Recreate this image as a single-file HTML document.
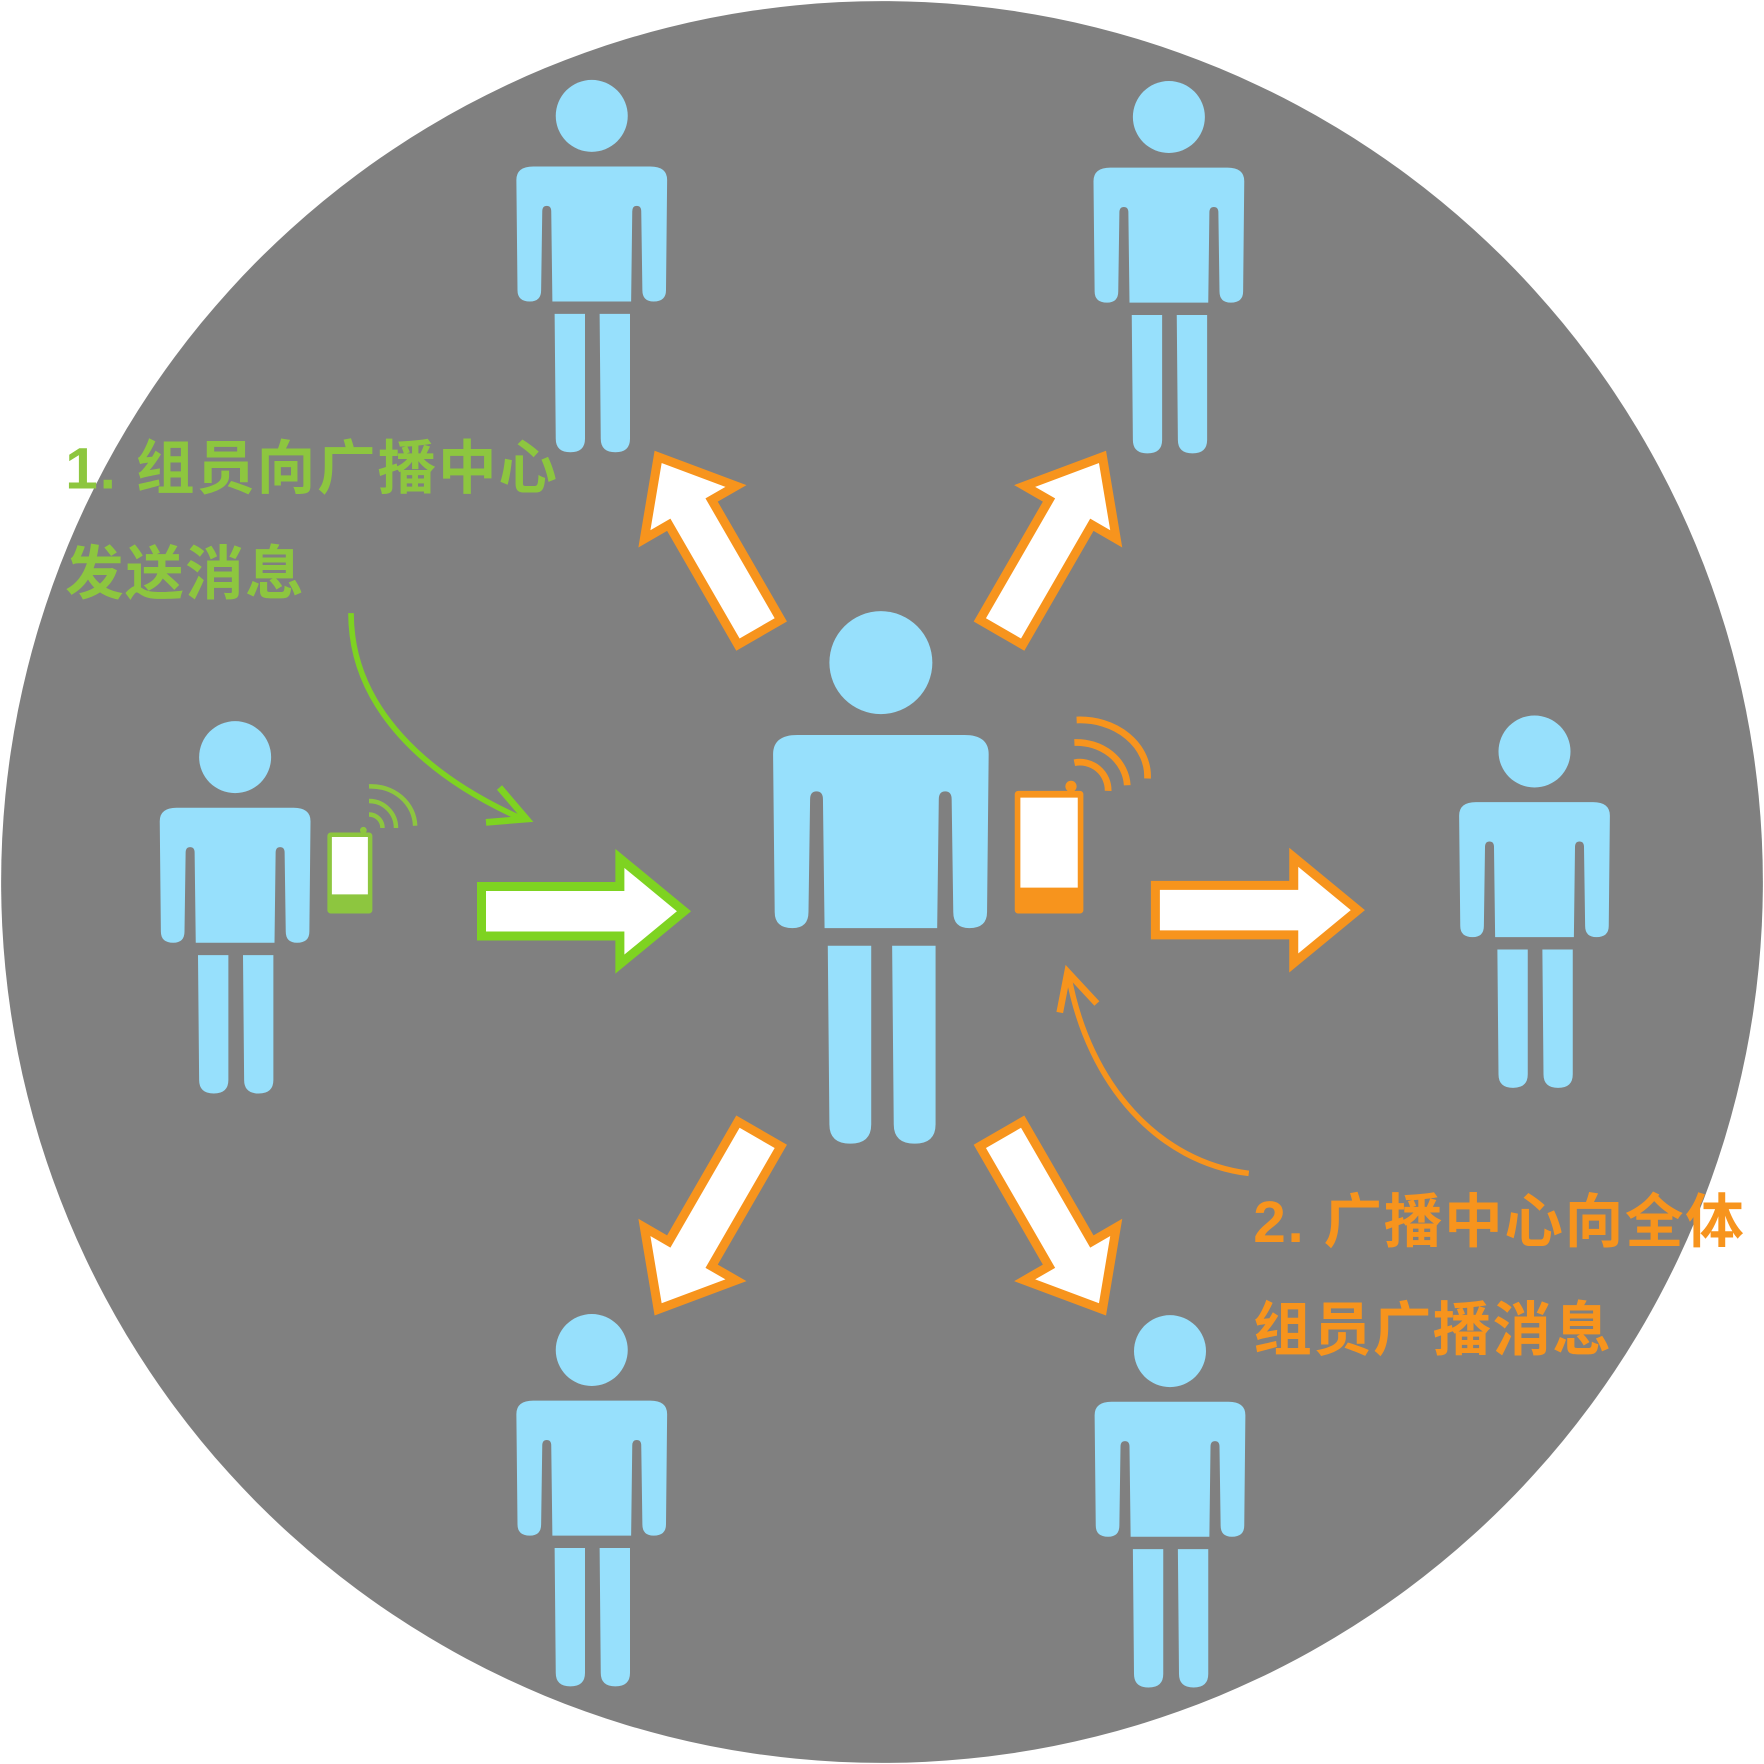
<!DOCTYPE html>
<html><head><meta charset="utf-8"><style>
html,body{margin:0;padding:0;background:#fff;}
svg{display:block;}
text{font-family:"Liberation Sans","Noto Sans CJK SC",sans-serif;font-weight:bold;}
</style></head><body>
<svg width="1764" height="1764" viewBox="0 0 1568 1568" xmlns="http://www.w3.org/2000/svg">
<defs>
<g id="p">
<circle cx="0" cy="0" r="32" fill="#97e0fc"/>
<path fill="#97e0fc" d="M -67,57 Q -67,45 -52,45 L 52,45 Q 67,45 67,57 L 66,155 Q 66,165 55,165 Q 45,165 45,155 L 44,85 Q 44,80 40,80 Q 36,80 36,85 L 35,165 L -35,165 L -36,85 Q -36,80 -40,80 Q -44,80 -44,85 L -45,155 Q -45,165 -55,165 Q -66,165 -66,155 Z"/>
<path fill="#97e0fc" d="M -33,176 L -6,176 L -6,287 Q -6,299 -19,299 Q -32,299 -32,287 Z M 7,176 L 34,176 L 34,287 Q 34,299 21,299 Q 8,299 8,287 Z"/>
</g>
<path id="a" d="M0,-22 L123,-22 L123,-47 L180,0 L123,47 L123,22 L0,22 Z" fill="#fff" stroke="#f7941d" stroke-width="8" stroke-linejoin="miter"/>
</defs>
<circle cx="784" cy="784" r="783" fill="#808080"/>
<use href="#p" x="526" y="103"/>
<use href="#p" x="1039" y="104"/>
<use href="#p" x="209" y="673"/>
<use href="#p" x="1364" y="668"/>
<use href="#p" x="526" y="1200"/>
<use href="#p" x="1040" y="1201"/>
<g transform="translate(783,589) scale(1.43)"><use href="#p"/></g>

<path d="M0,-22 L123,-22 L123,-47 L180,0 L123,47 L123,22 L0,22 Z" transform="translate(428,810)" fill="#fff" stroke="#7ed321" stroke-width="8"/>
<use href="#a" transform="translate(1027,809)"/>
<use href="#a" transform="translate(675,562) rotate(-120)"/>
<use href="#a" transform="translate(890,562) rotate(-60)"/>
<use href="#a" transform="translate(675,1008) rotate(120)"/>
<use href="#a" transform="translate(890,1008) rotate(60)"/>

<rect x="291" y="740" width="40" height="72" rx="3" fill="#8dc63f"/>
<rect x="295" y="744" width="32" height="51" fill="#fff"/>
<circle cx="323" cy="738" r="3" fill="#8dc63f"/>
<g fill="none" stroke="#8dc63f" stroke-width="4">
<path d="M328,724 A12,12 0 0 1 340,736"/>
<path d="M328,712 A24,24 0 0 1 352,736"/>
<path d="M328,699 A39,36 0 0 1 369,734"/>
</g>
<rect x="902" y="703" width="61" height="109" rx="3" fill="#f7941d"/>
<rect x="907" y="709" width="51" height="80" fill="#fff"/>
<circle cx="952" cy="699" r="5" fill="#f7941d"/>
<g fill="none" stroke="#f7941d" stroke-width="6">
<path d="M955,678 A25,25 0 0 1 985,703"/>
<path d="M955,660 A45,40 0 0 1 1002,698"/>
<path d="M957,640 A60,50 0 0 1 1020,692"/>
</g>

<path d="M312,545 C312,630 380,690 462,727" fill="none" stroke="#7ed321" stroke-width="5"/>
<path d="M444,700 L468,728 L432,731" fill="none" stroke="#7ed321" stroke-width="6"/>
<path d="M1110,1043 C1030,1033 968,965 950,868" fill="none" stroke="#f7941d" stroke-width="5"/>
<path d="M942,900 L949,864 L975,892" fill="none" stroke="#f7941d" stroke-width="6"/>

<text x="58" y="434" font-size="52" fill="#8dc63f" textLength="437" lengthAdjust="spacing">1. 组员向广播中心</text>
<text x="58" y="528" font-size="52" fill="#8dc63f" textLength="212" lengthAdjust="spacing">发送消息</text>
<text x="1114" y="1104" font-size="52" fill="#f7941d" textLength="436" lengthAdjust="spacing">2. 广播中心向全体</text>
<text x="1114" y="1200" font-size="52" fill="#f7941d" textLength="318" lengthAdjust="spacing">组员广播消息</text>
</svg>
</body></html>
